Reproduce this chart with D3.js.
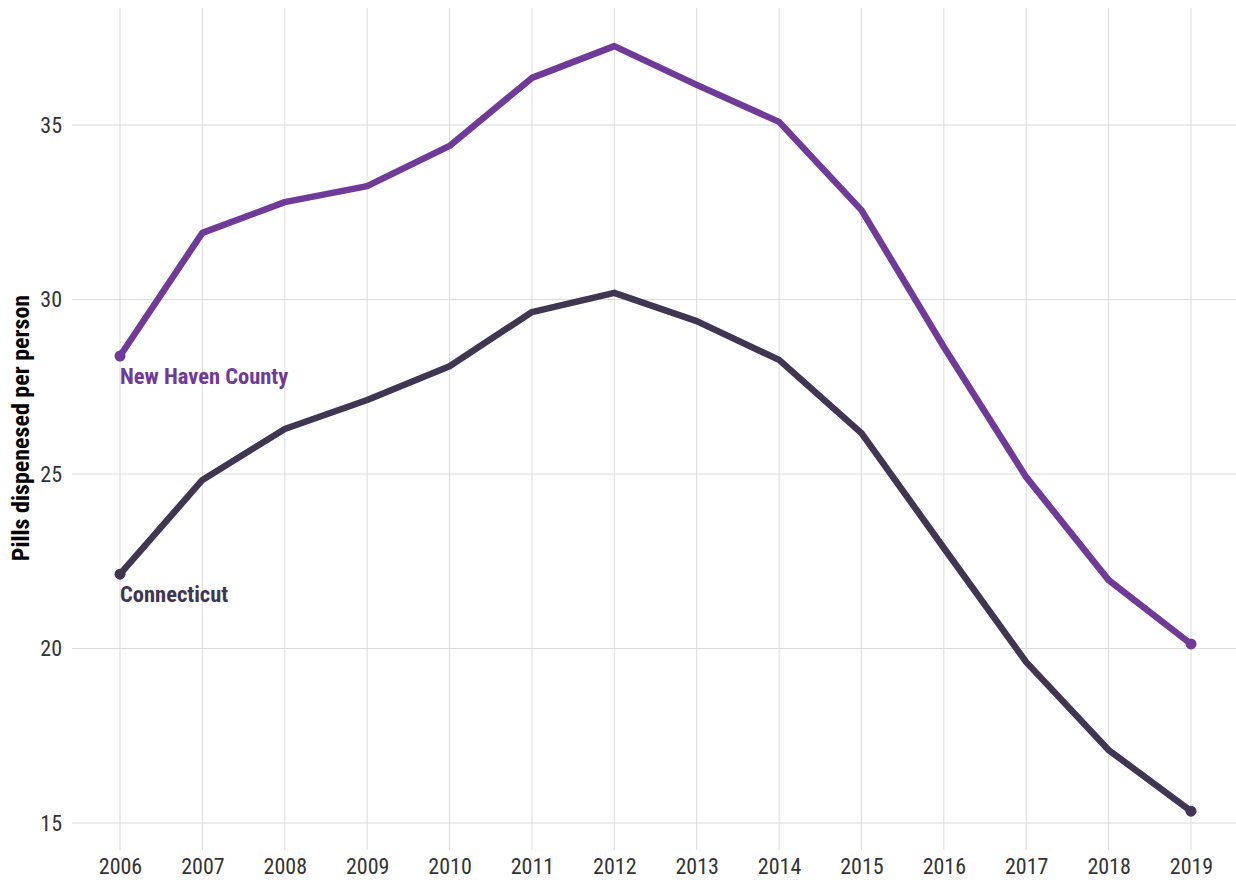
<!DOCTYPE html>
<html>
<head>
<meta charset="utf-8">
<script src="https://cdn.jsdelivr.net/npm/d3@7"></script>
<style>
  body { margin: 0; background: #fff; }
  svg text { font-family: "Liberation Sans Narrow", "Roboto Condensed", Roboto, sans-serif; }
</style>
</head>
<body>
<div id="vis"></div>
<script>
// data
var years = [2006, 2007, 2008, 2009, 2010, 2011, 2012, 2013, 2014, 2015, 2016, 2017, 2018, 2019];
var newHaven = [28.38, 31.91, 32.79, 33.25, 34.4, 36.35, 37.26, 36.15, 35.09, 32.56, 28.64, 24.91, 21.96, 20.13];
var connecticut = [22.13, 24.83, 26.29, 27.12, 28.09, 29.64, 30.19, 29.38, 28.27, 26.17, 22.88, 19.61, 17.09, 15.34];
var yTicks = [15, 20, 25, 30, 35];

var width = 1236;
var height = 880;

var svg = d3.select("#vis")
    .append("svg")
    .attr("width", width)
    .attr("height", height);

// scales
var xscale = d3.scaleLinear()
    .domain([2006, 2019])
    .range([120, 1191]);

var yscale = d3.scaleLinear()
    .domain([15, 35])
    .range([823, 125]);

var gridTop = 8, gridBottom = 850, gridLeft = 72, gridRight = 1236;

// grid lines
svg.append("g").selectAll("line.v")
    .data(years)
    .enter().append("line")
    .attr("x1", function(d) { return xscale(d); })
    .attr("x2", function(d) { return xscale(d); })
    .attr("y1", gridTop)
    .attr("y2", gridBottom)
    .attr("stroke", "#dcdcdc")
    .attr("stroke-width", 1);

svg.append("g").selectAll("line.h")
    .data(yTicks)
    .enter().append("line")
    .attr("x1", gridLeft)
    .attr("x2", gridRight)
    .attr("y1", function(d) { return yscale(d); })
    .attr("y2", function(d) { return yscale(d); })
    .attr("stroke", "#dcdcdc")
    .attr("stroke-width", 1);

// axes (labels only)
var xaxis = d3.axisBottom(xscale)
    .tickValues(years)
    .tickFormat(d3.format("d"))
    .tickSize(0)
    .tickPadding(0);

svg.append("g")
    .attr("transform", "translate(0," + 858 + ")")
    .call(xaxis)
    .call(function(g) { g.select(".domain").remove(); })
    .selectAll("text")
    .attr("dy", "0.71em")
    .attr("y", 0)
    .style("font-size", "22px")
    .attr("fill", "#333");

var yaxis = d3.axisLeft(yscale)
    .tickValues(yTicks)
    .tickSize(0)
    .tickPadding(0);

svg.append("g")
    .attr("transform", "translate(" + 62 + ",0)")
    .call(yaxis)
    .call(function(g) { g.select(".domain").remove(); })
    .selectAll("text")
    .style("font-size", "22px")
    .attr("fill", "#333");

// y axis title
svg.append("text")
    .attr("transform", "translate(29," + 428 + ") rotate(-90)")
    .style("text-anchor", "middle")
    .style("font-size", "24px")
    .style("font-weight", "bold")
    .attr("fill", "#000")
    .text("Pills dispenesed per person");

var series = [
    { name: "New Haven County", values: newHaven, color: "#6f3a98" },
    { name: "Connecticut", values: connecticut, color: "#413651" }
];

var line = d3.line()
    .x(function(d, i) { return xscale(years[i]); })
    .y(function(d) { return yscale(d); });

series.forEach(function(s) {
    svg.append("path")
        .datum(s.values)
        .attr("fill", "none")
        .attr("stroke", s.color)
        .attr("stroke-width", 6.5)
        .attr("stroke-linejoin", "round")
        .attr("d", line);

    var ends = [0, s.values.length - 1];
    svg.selectAll(null)
        .data(ends)
        .enter().append("circle")
        .attr("cx", function(i) { return xscale(years[i]); })
        .attr("cy", function(i) { return yscale(s.values[i]); })
        .attr("r", 5.5)
        .attr("fill", s.color);

    svg.append("text")
        .attr("x", xscale(years[0]))
        .attr("y", yscale(s.values[0]) + 28)
        .style("font-size", "22.5px")
        .style("font-weight", "bold")
        .attr("fill", s.color)
        .text(s.name);
});
</script>
</body>
</html>
